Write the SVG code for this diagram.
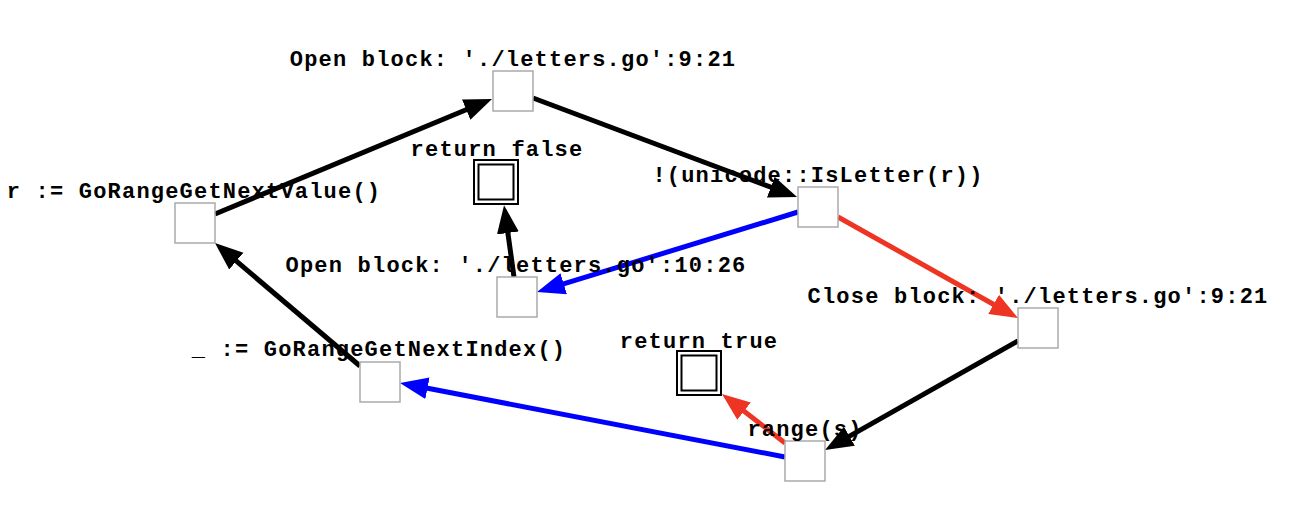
<svg xmlns="http://www.w3.org/2000/svg" width="1304" height="510" viewBox="0 0 1304 510">
<style>
.n{fill:#fff;stroke:#aaa;stroke-width:1.5}
.t{fill:#fff;stroke:#000;stroke-width:2}
.l{font-family:"Liberation Mono","Courier New",monospace;font-weight:bold;font-size:22px;letter-spacing:1.2px;fill:#000;text-anchor:middle}
.e{fill:none;stroke-width:5}
.k{stroke:#000}.b{stroke:#0000ff}.r{stroke:#ee3524}
</style>
<defs>
<marker id="ak" markerUnits="userSpaceOnUse" markerWidth="30" markerHeight="24" refX="13" refY="11" orient="auto"><path d="M0,0 L28,11 L0,22 z" fill="#000"/></marker>
<marker id="ab" markerUnits="userSpaceOnUse" markerWidth="30" markerHeight="24" refX="13" refY="11" orient="auto"><path d="M0,0 L28,11 L0,22 z" fill="#0000ff"/></marker>
<marker id="ar" markerUnits="userSpaceOnUse" markerWidth="30" markerHeight="24" refX="13" refY="11" orient="auto"><path d="M0,0 L28,11 L0,22 z" fill="#ee3524"/></marker>
</defs>
<rect width="1304" height="510" fill="#fff"/>
<g id="edges">
<line class="e k" x1="215" y1="214" x2="478.2" y2="104.7" marker-end="url(#ak)"/>
<line class="e k" x1="533" y1="98" x2="783" y2="191.7" marker-end="url(#ak)"/>
<line class="e b" x1="798" y1="212" x2="551.3" y2="287.6" marker-end="url(#ab)"/>
<line class="e r" x1="838" y1="217" x2="1004.9" y2="310.7" marker-end="url(#ar)"/>
<line class="e k" x1="1018" y1="341" x2="838.1" y2="442.6" marker-end="url(#ak)"/>
<line class="e b" x1="785" y1="457" x2="414.7" y2="385.8" marker-end="url(#ab)"/>
<line class="e r" x1="785" y1="443" x2="733.8" y2="403.2" marker-end="url(#ar)"/>
<line class="e k" x1="360" y1="366" x2="226.4" y2="252.7" marker-end="url(#ak)"/>
<line class="e k" x1="514" y1="277" x2="506.1" y2="220.1" marker-end="url(#ak)"/>
</g>
<g id="n_open921"><rect class="n" x="493" y="71" width="40" height="40"/><text class="l" x="513" y="66">Open block: './letters.go':9:21</text></g>
<g id="n_nextvalue"><rect class="n" x="175" y="203" width="40" height="40"/><text class="l" x="194" y="198">r := GoRangeGetNextValue()</text></g>
<g id="n_retfalse"><rect class="t" x="474" y="160" width="44" height="44"/><rect class="t" x="478.5" y="164.5" width="35" height="35"/><text class="l" x="497" y="156">return false</text></g>
<g id="n_isletter"><rect class="n" x="798" y="187" width="40" height="40"/><text class="l" x="818" y="182">!(unicode::IsLetter(r))</text></g>
<g id="n_open1026"><rect class="n" x="497" y="277" width="40" height="40"/><text class="l" x="516" y="272">Open block: './letters.go':10:26</text></g>
<g id="n_close921"><rect class="n" x="1018" y="308" width="40" height="40"/><text class="l" x="1038" y="303">Close block: './letters.go':9:21</text></g>
<g id="n_nextindex"><rect class="n" x="360" y="362" width="40" height="40"/><text class="l" x="379" y="356">_ := GoRangeGetNextIndex()</text></g>
<g id="n_rettrue"><rect class="t" x="677" y="351" width="44" height="44"/><rect class="t" x="681.5" y="355.5" width="35" height="35"/><text class="l" x="699" y="348">return true</text></g>
<g id="n_range"><rect class="n" x="785" y="441" width="40" height="40"/><text class="l" x="805" y="436">range(s)</text></g>
</svg>
